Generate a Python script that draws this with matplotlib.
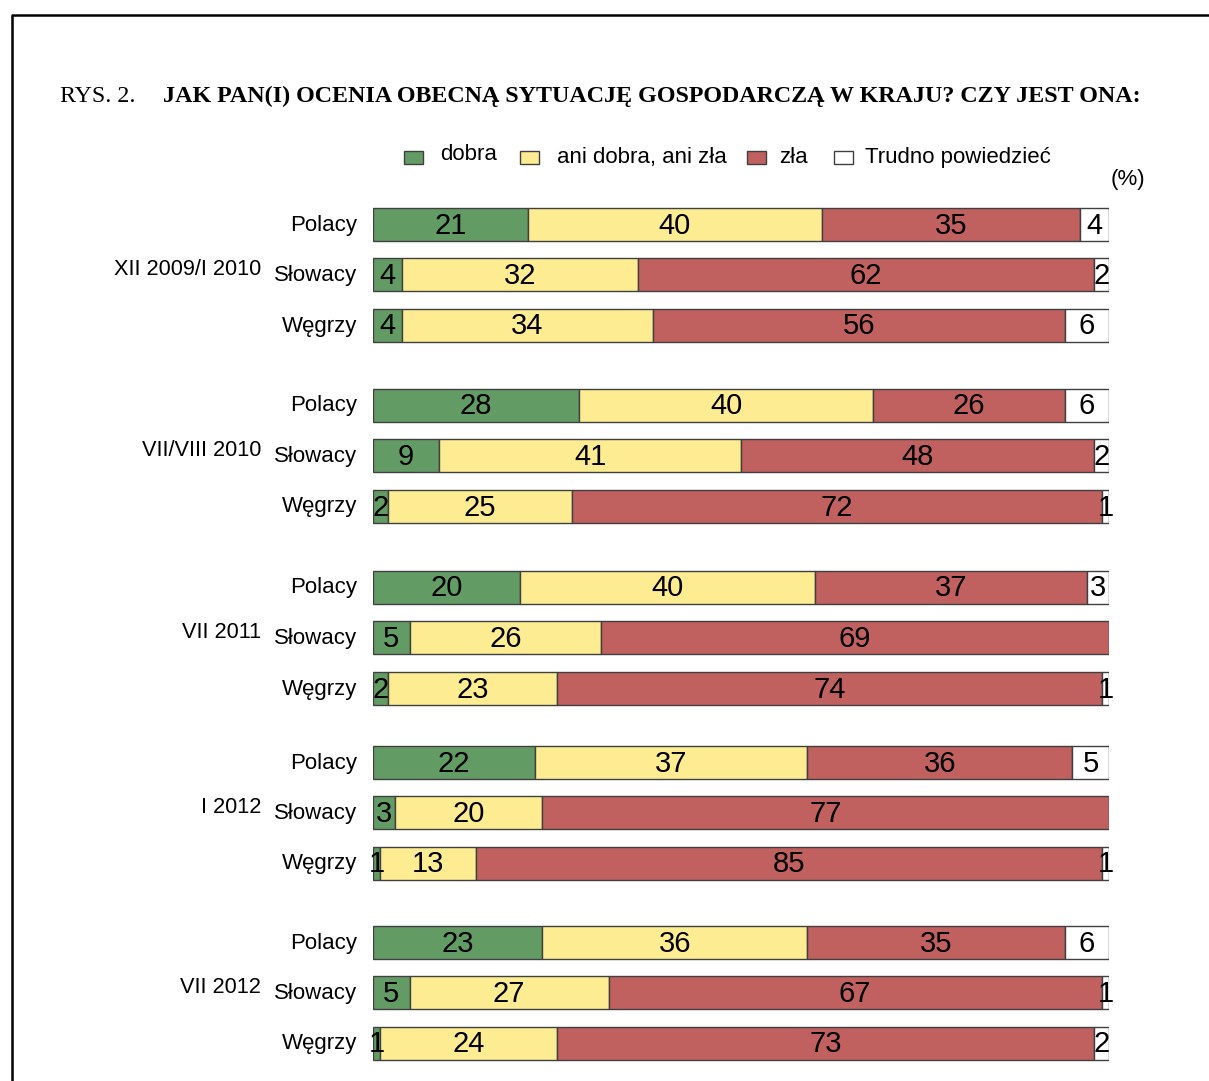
import matplotlib.pyplot as plt
from matplotlib.patches import Rectangle

# data
waves = ["XII 2009/I 2010", "VII/VIII 2010", "VII 2011", "I 2012", "VII 2012"]
nations = ["Polacy", "Słowacy", "Węgrzy"]
categories = ["dobra", "ani dobra, ani zła", "zła", "Trudno powiedzieć"]

dobra = [21, 4, 4, 28, 9, 2, 20, 5, 2, 22, 3, 1, 23, 5, 1]
ani = [40, 32, 34, 40, 41, 25, 40, 26, 23, 37, 20, 13, 36, 27, 24]
zla = [35, 62, 56, 26, 48, 72, 37, 69, 74, 36, 77, 85, 35, 67, 73]
trudno = [4, 2, 6, 6, 2, 1, 3, 0, 1, 5, 0, 1, 6, 1, 2]

colors = ["#639b65", "#fdec91", "#c0605f", "#ffffff"]
series = [dobra, ani, zla, trudno]

W, H = 1209, 1081
fig = plt.figure(figsize=(W / 100, H / 100), dpi=100)
plt.rcParams["font.family"] = ["Liberation Sans", "DejaVu Sans"]

# axes in pixel-like y units
ax = fig.add_axes([373 / W, 0, 736 / W, 1])
ax.set_xlim(0, 100)
ax.set_ylim(H, 0)
ax.axis("off")

group_top = [224, 405, 587, 762, 942]
ypos = []
for g in range(len(waves)):
    for r in range(len(nations)):
        ypos.append(group_top[g] + r * 50.5)

left = [0] * len(ypos)
for vals, col in zip(series, colors):
    for i, v in enumerate(vals):
        if v == 0:
            continue
        ax.barh(ypos[i], v, left=left[i], height=33, color=col,
                edgecolor="#404040", linewidth=1)
        ax.text(left[i] + v / 2, ypos[i] + 1.5, str(v), ha="center", va="center",
                fontsize=21, color="black")
        left[i] += v

# row labels
for i, y in enumerate(ypos):
    fig.text(357 / W, 1 - (y + 1) / H, nations[i % 3], ha="right", va="center",
             fontsize=16)
for g, wave in enumerate(waves):
    y = ypos[g * 3 + 1] - 5
    fig.text(261 / W, 1 - y / H, wave, ha="right", va="center", fontsize=15.7)

# title
fig.text(60 / W, 1 - 96 / H, "RYS. 2.", ha="left", va="center", fontsize=17.3,
         family="Liberation Serif")
fig.text(163 / W, 1 - 96 / H,
         "JAK PAN(I) OCENIA OBECNĄ SYTUACJĘ GOSPODARCZĄ W KRAJU? CZY JEST ONA:",
         ha="left", va="center", fontsize=17.3, family="Liberation Serif",
         fontweight="bold")

# legend
handle_x = [404, 520, 747, 834]
text_x = [440, 557, 779, 865]
text_y = [155, 158, 158, 158]
for hx, tx, ty, lab, col in zip(handle_x, text_x, text_y, categories, colors):
    fig.patches.append(Rectangle((hx / W, 1 - 164 / H), 19 / W, 13 / H,
                                 transform=fig.transFigure, facecolor=col,
                                 edgecolor="#404040", linewidth=1))
    fig.text(tx / W, 1 - ty / H, lab, ha="left", va="center", fontsize=16)
fig.text(1128 / W, 1 - 180 / H, "(%)", ha="center", va="center", fontsize=16)

# frame
fig.lines.append(plt.Line2D([12 / W, 12 / W, 1], [0, 1 - 15 / H, 1 - 15 / H],
                            transform=fig.transFigure, color="black",
                            linewidth=1.8))

fig.savefig("out.png", dpi=100)
